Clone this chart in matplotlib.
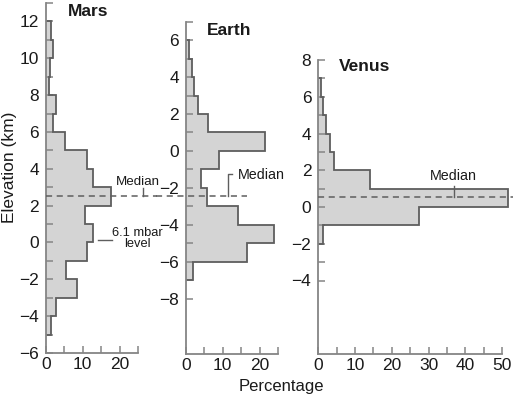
import numpy as np
import matplotlib
matplotlib.use("Agg")
import matplotlib.pyplot as plt

plt.rcParams['font.family'] = ['Liberation Sans', 'DejaVu Sans']

# elevation bins (km, lower edge of 1 km bins) and percentage of surface
mars_bottom = -5
mars_pct = [1.4, 2.8, 8.5, 5.6, 11.1, 12.8, 10.7, 17.6, 12.8, 11.2,
            5.1, 2.1, 2.8, 1.0, 1.1, 2.0, 1.4]
earth_bottom = -7
earth_pct = [1.9, 16.7, 23.9, 14.1, 5.7, 4.1, 9.1, 21.3, 5.9, 3.2,
             2.3, 1.6, 1.0]
venus_bottom = -2
venus_pct = [1.4, 27.5, 51.6, 14.1, 4.4, 3.2, 2.0, 1.4, 0.7]

medians = {'Mars': 2.5, 'Earth': -2.43, 'Venus': 0.55}

mars_yticks = list(range(-6, 13, 2))
earth_yticks = list(range(-8, 7, 2))
venus_yticks = list(range(-4, 9, 2))

GRAY = '#858585'
EDGE = '#5e5e5e'
FILL = '#d4d4d4'
TXT = '#1a1a1a'

W, H = 516, 401
fig = plt.figure(figsize=(W / 100, H / 100), dpi=100)


def px_axes(left, right, top, bottom):
    return fig.add_axes([left / W, 1 - bottom / H, (right - left) / W,
                         (bottom - top) / H])


def panel(ax, bottom, pct, xmax, ylim, yticks, ymin_minor, ymax_minor, xmajor):
    edges = np.arange(bottom, bottom + len(pct) + 1)
    ax.stairs(pct, edges, orientation='horizontal', fill=True,
              color=FILL, clip_on=False, zorder=1)
    ax.stairs(pct, edges, orientation='horizontal', fill=False,
              color=EDGE, lw=1.3, clip_on=False, zorder=2)
    ax.set_xlim(0, xmax)
    ax.set_ylim(*ylim)
    ax.set_yticks(yticks)
    ax.set_yticks(list(range(ymin_minor, ymax_minor + 1, 2)), minor=True)
    ax.set_xticks(list(range(0, xmax + 1, xmajor)))
    ax.set_xticks(list(range(5, xmax + 1, 10)), minor=True)
    for s in ['top', 'right']:
        ax.spines[s].set_visible(False)
    for s in ['left', 'bottom']:
        ax.spines[s].set_color(GRAY)
        ax.spines[s].set_linewidth(1.3)
    ax.tick_params(which='both', direction='in', length=5, width=1.1,
                   color=GRAY, labelsize=12.5, labelcolor=TXT)
    ax.tick_params(axis='y', pad=5)
    ax.tick_params(axis='x', pad=3)
    ax.patch.set_alpha(0)


dash = (0, (4, 3))

# Mars
ax1 = px_axes(45.7, 138.2, 3, 353)
panel(ax1, mars_bottom, mars_pct, 25, (-6, 13), mars_yticks, -5, 13, 10)
ax1.plot([0, 30], [medians['Mars']] * 2, ls=dash, color=EDGE, lw=1.1,
         clip_on=False, zorder=3)
ax1.text(6, 12.55, 'Mars', fontsize=12.5, fontweight='bold', color=TXT,
         va='center', ha='left')
ax1.text(25.0, 3.3, 'Median', fontsize=9.6, color=TXT, ha='center',
         va='center')
ax1.plot([26.2, 26.2], [2.95, medians['Mars']], color=EDGE, lw=1,
         clip_on=False)
ax1.text(24.8, 0.2, '6.1 mbar\nlevel', fontsize=9.3, color=TXT,
         ha='center', va='center', linespacing=0.9)
ax1.plot([14.2, 18.0], [0.14, 0.14], color=EDGE, lw=1, clip_on=False)

# Earth
ax2 = px_axes(185.7, 278.2, 21.7, 354)
panel(ax2, earth_bottom, earth_pct, 25, (-11, 7), earth_yticks, -7, 7, 10)
ax2.plot([-8, 16.5], [medians['Earth']] * 2, ls=dash, color=EDGE, lw=1.1,
         clip_on=False, zorder=3)
ax2.text(5.8, 6.5, 'Earth', fontsize=12.5, fontweight='bold', color=TXT,
         va='center', ha='left')
ax2.text(14.2, -1.3, 'Median', fontsize=10.3, color=TXT, ha='left',
         va='center')
ax2.plot([12.4, 11.4, 11.4], [-1.25, -1.25, medians['Earth']], color=EDGE,
         lw=1, clip_on=False)

# Venus
ax3 = px_axes(318.3, 502, 60, 354)
panel(ax3, venus_bottom, venus_pct, 50, (-8, 8), venus_yticks, -3, 7, 10)
ax3.plot([0, 53], [medians['Venus']] * 2, ls=dash, color=EDGE, lw=1.1,
         clip_on=False, zorder=3)
ax3.text(5.6, 7.64, 'Venus', fontsize=12.5, fontweight='bold', color=TXT,
         va='center', ha='left')
ax3.text(36.9, 1.68, 'Median', fontsize=10.3, color=TXT, ha='center',
         va='center')
ax3.plot([36.8, 36.8], [1.15, medians['Venus']], color=EDGE, lw=1,
         clip_on=False)

fig.text(0.019, 0.583, 'Elevation (km)', rotation=90, fontsize=12.5,
         color=TXT, ha='center', va='center')
fig.text(0.545, 0.035, 'Percentage', fontsize=12, color=TXT,
         ha='center', va='center')

fig.savefig('out.png', dpi=100)
